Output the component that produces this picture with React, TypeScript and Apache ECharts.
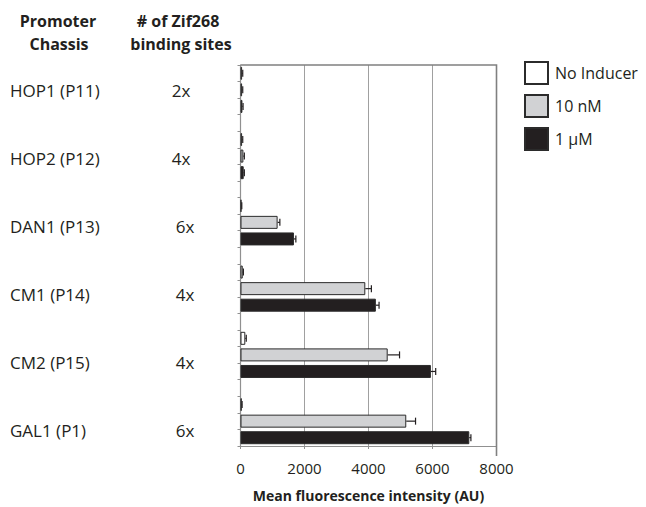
import React, { useEffect, useRef } from "react";
import * as echarts from "echarts";

const promoters = ["HOP1 (P11)", "HOP2 (P12)", "DAN1 (P13)", "CM1 (P14)", "CM2 (P15)", "GAL1 (P1)"];
const bindingSites = ["2x", "4x", "6x", "4x", "4x", "6x"];
const seriesNames = ["No Inducer", "10 nM", "1 µM"];
const noInducer = [50, 50, 30, 70, 150, 40];
const nM10 = [50, 90, 1160, 3900, 4600, 5180];
const uM1 = [60, 100, 1670, 4230, 5950, 7150];
const errNoInducer = [20, 20, 10, 20, 30, 10];
const errNM10 = [20, 30, 70, 190, 370, 290];
const errUM1 = [20, 20, 60, 100, 150, 50];
const xTicks = [0, 2000, 4000, 6000, 8000];

const FONT = "'Open Sans', 'Noto Sans', sans-serif";
const INK = "#231f20";

export default function App() {
  const ref = useRef<HTMLDivElement>(null);
  useEffect(() => {
    if (!ref.current) return;
    const chart = echarts.init(ref.current, null, { renderer: "svg" });
    const nSlots = promoters.length * 4 - 1;
    const slots = Array.from({ length: nSlots }, (_, i) => String(i));
    const groups = [noInducer, nM10, uM1];
    const errs = [errNoInducer, errNM10, errUM1];
    const colors = ["#ffffff", "#d1d2d4", INK];
    const barSeries = groups.map((vals, s) => {
      const data: any[] = slots.map(() => "-");
      vals.forEach((v, g) => {
        data[g * 4 + s] = v;
      });
      return {
        type: "bar",
        name: seriesNames[s],
        data,
        barWidth: 13,
        barGap: "-100%",
        itemStyle: { color: colors[s], borderColor: "#2b2b2b", borderWidth: 1 },
      };
    });
    const errData: any[] = [];
    groups.forEach((vals, s) => {
      vals.forEach((v, g) => {
        errData.push([v, g * 4 + s, errs[s][g]]);
      });
    });
    const errSeries = {
      type: "custom",
      name: "err",
      data: errData,
      encode: { x: 0, y: 1 },
      z: 5,
      renderItem: (params: any, api: any) => {
        const v = api.value(0);
        const slot = api.value(1);
        const e = api.value(2);
        const p0 = api.coord([v, slot]);
        const p1 = api.coord([v + e, slot]);
        const style = { stroke: INK, lineWidth: 1.2 };
        return {
          type: "group",
          children: [
            { type: "line", shape: { x1: p0[0], y1: p0[1], x2: p1[0], y2: p1[1] }, style },
            { type: "line", shape: { x1: p1[0], y1: p1[1] - 3.5, x2: p1[0], y2: p1[1] + 3.5 }, style },
          ],
        };
      },
    };

    const top = 65;
    const bottom = 456;
    const slotH = (bottom - top) / nSlots;
    const texts: any[] = [];
    promoters.forEach((p, g) => {
      const cy = top + slotH * (g * 4 + 1.5);
      texts.push({
        type: "text",
        x: 10,
        y: cy,
        style: { text: p, font: `17px ${FONT}`, fill: INK, textAlign: "left", textVerticalAlign: "middle" },
      });
      texts.push({
        type: "text",
        x: g < 2 ? 181 : 185,
        y: cy,
        style: { text: bindingSites[g], font: `17px ${FONT}`, fill: INK, textAlign: "center", textVerticalAlign: "middle" },
      });
    });
    const header = (text: string, x: number, y: number) => ({
      type: "text",
      x,
      y,
      style: { text, font: `bold 16px ${FONT}`, fill: INK, textAlign: "center", textVerticalAlign: "middle" },
    });
    texts.push(header("Promoter", 58, 21));
    texts.push(header("Chassis", 59, 44));
    texts.push(header("# of Zif268", 178, 21));
    texts.push(header("binding sites", 181, 44));
    // frame top & right
    texts.push({
      type: "polyline",
      shape: { points: [[240.5, 65], [496.5, 65], [496.5, 456]] },
      style: { stroke: "#808080", lineWidth: 1.6, fill: "none" },
      z: 10,
    });

    chart.setOption({
      animation: false,
      grid: { left: 240.5, right: 149.5, top, bottom: 507 - bottom, containLabel: false },
      legend: {
        data: seriesNames,
        orient: "vertical",
        left: 519,
        top: 56,
        itemWidth: 23,
        itemHeight: 22,
        itemGap: 9,
        icon: "rect",
        textStyle: { fontFamily: FONT, fontSize: 16, color: INK, padding: [0, 0, 0, 2] },
      },
      xAxis: {
        type: "value",
        min: xTicks[0],
        max: xTicks[xTicks.length - 1],
        interval: 2000,
        axisLine: { show: true, lineStyle: { color: "#909090", width: 1.2 } },
        axisTick: { show: true, length: 3, lineStyle: { color: "#909090" } },
        axisLabel: { fontFamily: FONT, fontSize: 15, color: INK, margin: 14, formatter: (v: number) => String(v) },
        splitLine: { show: true, lineStyle: { color: "#a0a0a0", width: 1 } },
        name: "Mean fluorescence intensity (AU)",
        nameLocation: "middle",
        nameGap: 42,
        nameTextStyle: { fontFamily: FONT, fontSize: 14, fontWeight: "bold", color: INK },
      },
      yAxis: {
        type: "category",
        data: slots,
        inverse: true,
        axisLine: { show: true, lineStyle: { color: "#909090", width: 1.2 } },
        axisTick: { show: true, length: 3, lineStyle: { color: "#909090" } },
        axisLabel: { show: false },
        splitLine: { show: false },
      },
      graphic: texts,
      series: [...barSeries, errSeries],
    });
    return () => chart.dispose();
  }, []);
  return <div ref={ref} style={{ width: 646, height: 507, position: "absolute", left: 0, top: 0 }} />;
}
